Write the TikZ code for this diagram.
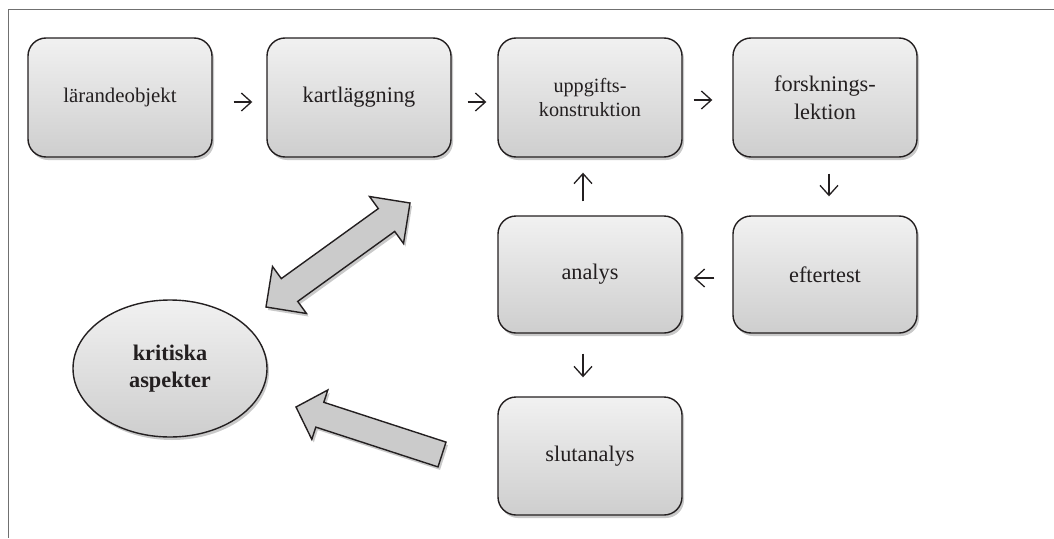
\documentclass[tikz,border=0pt]{standalone}
\usepackage{fontspec}
\setmainfont{Liberation Serif}
\usetikzlibrary{arrows.meta,shadows,shapes.geometric}
\definecolor{ink}{HTML}{231F20}
\definecolor{framec}{HTML}{707070}
\definecolor{boxtop}{HTML}{F1F1F1}
\definecolor{boxbot}{HTML}{CECECE}
\definecolor{fatc}{HTML}{CBCBCB}
\begin{document}
\begin{tikzpicture}[x=1pt,y=-1pt,
  softshadow/.style={drop shadow={shadow xshift=2pt,shadow yshift=-3pt,opacity=0.3,fill=black!70}},
  stepbox/.style={draw=ink,line width=1.4pt,rounded corners=18pt,top color=boxtop,bottom color=boxbot,
    minimum width=184pt,minimum height=119pt,inner sep=0pt,align=center,text=ink,
    font=\fontsize{22.3}{28}\selectfont,softshadow},
  critnode/.style={ellipse,draw=ink,line width=1.4pt,top color=boxtop,bottom color=boxbot,
    minimum width=194pt,minimum height=137pt,inner sep=0pt,align=center,text=ink,
    font=\fontsize{22.3}{27}\selectfont\bfseries,softshadow},
  sarrow/.style={draw=ink,line width=1.3pt,-{Straight Barb[length=10pt,width=18pt,line width=1.3pt]}},
  fatarrow/.style={draw=ink,line width=1.4pt,fill=fatc,line join=miter,softshadow},
  framel/.style={draw=framec,line width=1pt}]
\useasboundingbox (0,0) rectangle (1054,538);
\draw[framel] (1054,9) -- (8,9) -- (8,538);

\node[stepbox,font=\fontsize{20.8}{25}\selectfont] (lar) at (120,97.5) {lärandeobjekt};
\node[stepbox] (kart) at (359,97.5) {kartläggning};
\node[stepbox,font=\fontsize{20.2}{24}\selectfont] (uppg) at (590,97.5) {uppgifts-\\konstruktion};
\node[stepbox] (forsk) at (825,97.5) {forsknings-\\lektion};
\node[stepbox,minimum height=117pt] (efter) at (825,274.5) {eftertest};
\node[stepbox,minimum height=117pt] (anal) at (590,274.5) {analys};
\node[stepbox,minimum height=118pt] (slut) at (590,456) {slutanalys};
\node[critnode] (krit) at (170,368.5) {kritiska\\aspekter};

\draw[sarrow] ([xshift=21pt,yshift=-4.5pt]lar.east) -- ([xshift=-14pt,yshift=-4.5pt]kart.west);
\draw[sarrow] ([xshift=16pt,yshift=-4.5pt]kart.east) -- ([xshift=-11pt,yshift=-4.5pt]uppg.west);
\draw[sarrow] ([xshift=11pt,yshift=-2.5pt]uppg.east) -- ([xshift=-20pt,yshift=-2.5pt]forsk.west);
\draw[sarrow] ([xshift=4pt,yshift=-16pt]forsk.south) -- ([xshift=4pt,yshift=19pt]efter.north);
\draw[sarrow] ([xshift=-18pt,yshift=-3.5pt]efter.west) -- ([xshift=11pt,yshift=-3.5pt]anal.east);
\draw[sarrow] ([xshift=-7pt,yshift=14pt]anal.north) -- ([xshift=-7pt,yshift=-15pt]uppg.south);
\draw[sarrow] ([xshift=-7pt,yshift=-20pt]anal.south) -- ([xshift=-7pt,yshift=19pt]slut.north);

% double fat arrow between kritiska aspekter and the upper row
\path[fatarrow] (266,307) -- (306.5,313.5) -- (297.7,301.4) -- (394.7,231.4) -- (403.5,243.5)
  -- (410,203) -- (369.5,196.5) -- (378.3,208.6) -- (281.3,278.6) -- (272.5,266.5) -- cycle;
% fat arrow from slutanalys to kritiska aspekter
\path[fatarrow] (296,407) -- (327.8,390.0) -- (323.8,402.3) -- (446.0,442.1) -- (438.0,466.9)
  -- (315.8,427.1) -- (311.8,439.4) -- cycle;
\end{tikzpicture}
\end{document}
